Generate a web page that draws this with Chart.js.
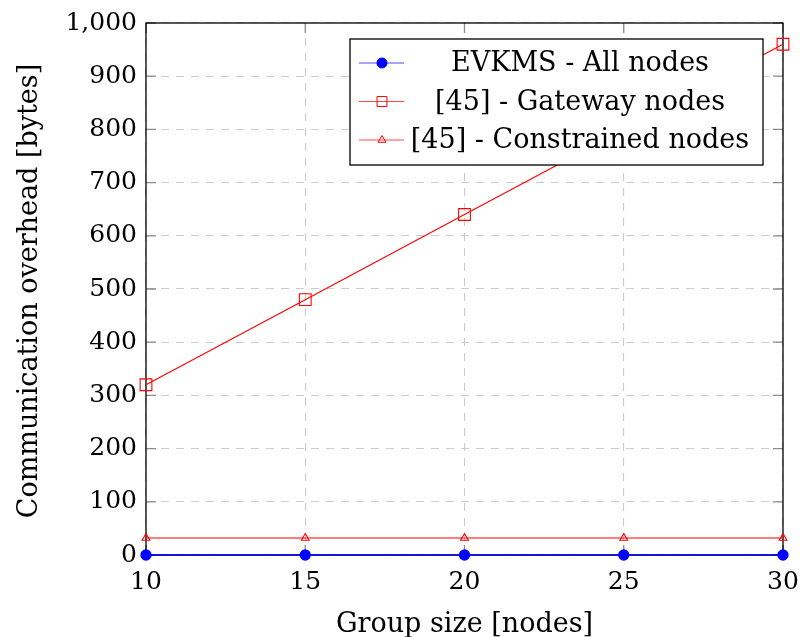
<!DOCTYPE html>
<html>
<head>
<meta charset="utf-8">
<script src="https://cdn.jsdelivr.net/npm/chart.js@4/dist/chart.umd.min.js"></script>
<style>
  html, body { margin: 0; padding: 0; background: #fff; }
  #wrap { width: 800px; height: 637px; }
</style>
</head>
<body>
<div id="wrap"><canvas id="c" width="800" height="637"></canvas></div>
<script>
// Group sizes (x) and communication overhead in bytes per scheme
const groupSizes = [10, 15, 20, 25, 30];
const evkmsAll = [0, 0, 0, 0, 0];
const refGateway = [320, 480, 640, 800, 960];
const refConstrained = [32, 32, 32, 32, 32];

const seriesLabels = ['EVKMS - All nodes', '[45] - Gateway nodes', '[45] - Constrained nodes'];
const xTicks = [10, 15, 20, 25, 30];
const yTicks = [0, 100, 200, 300, 400, 500, 600, 700, 800, 900, 1000];

const xTitle = 'Group size [nodes]';
const yTitle = 'Communication overhead [bytes]';

const FONT = '"DejaVu Serif", "Liberation Serif", serif';
const TEXT_SIZE = 27;
const TICK_SIZE = 25;

const toPoints = ys => groupSizes.map((x, i) => ({ x: x, y: ys[i] }));

// Full frame, inward tick marks, axis titles and boxed legend
const framePlugin = {
  id: 'frame',
  beforeDatasetsDraw(chart) {
    const { ctx, chartArea: a, scales } = chart;
    ctx.save();
    ctx.strokeStyle = '#8c8c8c';
    ctx.lineWidth = 1.3;
    const tl = 10;
    ctx.beginPath();
    xTicks.forEach(v => {
      const px = scales.x.getPixelForValue(v);
      ctx.moveTo(px, a.bottom); ctx.lineTo(px, a.bottom - tl);
      ctx.moveTo(px, a.top); ctx.lineTo(px, a.top + tl);
    });
    yTicks.forEach(v => {
      const py = scales.y.getPixelForValue(v);
      ctx.moveTo(a.left, py); ctx.lineTo(a.left + tl, py);
      ctx.moveTo(a.right, py); ctx.lineTo(a.right - tl, py);
    });
    ctx.stroke();
    ctx.strokeStyle = '#000';
    ctx.lineWidth = 1.3;
    ctx.strokeRect(a.left, a.top, a.right - a.left, a.bottom - a.top);
    ctx.restore();
  },
  afterDraw(chart) {
    const { ctx, chartArea: a } = chart;
    ctx.save();
    ctx.fillStyle = '#000';
    ctx.font = TEXT_SIZE + 'px ' + FONT;
    // x title
    ctx.textAlign = 'center';
    ctx.textBaseline = 'alphabetic';
    ctx.fillText(xTitle, (a.left + a.right) / 2, 632);
    // y title
    ctx.translate(37, (a.top + a.bottom) / 2 + 2);
    ctx.rotate(-Math.PI / 2);
    ctx.fillText(yTitle, 0, 0);
    ctx.restore();

    // legend
    const bw = 413, bh = 126;
    const bx = a.right - 20 - bw, by = a.top + 16;
    ctx.save();
    ctx.fillStyle = '#fff';
    ctx.fillRect(bx, by, bw, bh);
    ctx.strokeStyle = '#000';
    ctx.lineWidth = 1.3;
    ctx.strokeRect(bx, by, bw, bh);
    chart.data.datasets.forEach((ds, i) => {
      const cy = by + 24 + i * 38.5;
      ctx.strokeStyle = ds.borderColor;
      ctx.globalAlpha = 0.7;
      ctx.lineWidth = 1.2;
      ctx.beginPath();
      ctx.moveTo(bx + 9, cy); ctx.lineTo(bx + 54, cy);
      ctx.stroke();
      ctx.globalAlpha = 1;
      ctx.fillStyle = ds.pointBackgroundColor;
      ctx.strokeStyle = ds.pointBorderColor;
      ctx.lineWidth = 1;
      Chart.helpers.drawPoint(ctx, {
        pointStyle: ds.pointStyle,
        radius: ds.pointStyle === 'rect' ? 7 : (ds.pointStyle === 'circle' ? 5 : 4.5),
        rotation: 0,
        borderWidth: 1
      }, bx + 32, cy);
      ctx.fillStyle = '#000';
      ctx.font = TEXT_SIZE + 'px ' + FONT;
      ctx.textAlign = 'center';
      ctx.textBaseline = 'middle';
      ctx.fillText(ds.label, bx + 230, cy + 1);
    });
    ctx.restore();
  }
};

new Chart(document.getElementById('c'), {
  type: 'line',
  data: {
    datasets: [
      {
        label: seriesLabels[0],
        data: toPoints(evkmsAll),
        borderColor: '#0000ff',
        backgroundColor: '#0000ff',
        pointBackgroundColor: '#0000ff',
        pointBorderColor: '#0000ff',
        pointStyle: 'circle',
        pointRadius: 5,
        borderWidth: 1.3,
        clip: false
      },
      {
        label: seriesLabels[1],
        data: toPoints(refGateway),
        borderColor: '#ff0000',
        backgroundColor: '#ff0000',
        pointBackgroundColor: 'rgba(255,255,255,0)',
        pointBorderColor: '#ff0000',
        pointStyle: 'rect',
        pointRadius: 8.3,
        pointBorderWidth: 1.1,
        borderWidth: 1.1,
        clip: false
      },
      {
        label: seriesLabels[2],
        data: toPoints(refConstrained),
        borderColor: '#ff0000',
        backgroundColor: '#ff0000',
        pointBackgroundColor: 'rgba(255,255,255,0)',
        pointBorderColor: '#ff0000',
        pointStyle: 'triangle',
        pointRadius: 4.5,
        pointBorderWidth: 1.1,
        borderWidth: 1.1,
        clip: false
      }
    ]
  },
  options: {
    responsive: false,
    animation: false,
    layout: { padding: { top: 23, right: 17, left: 0, bottom: 0 } },
    plugins: { legend: { display: false }, tooltip: { enabled: false } },
    scales: {
      x: {
        type: 'linear',
        min: 10, max: 30,
        afterBuildTicks: s => { s.ticks = xTicks.map(v => ({ value: v })); },
        afterFit: s => { s.height = 82; s.paddingLeft = 0; s.paddingRight = 0; },
        border: { display: false, dash: [8, 7] },
        grid: { color: '#cccccc', lineWidth: 1.1, drawTicks: false },
        ticks: { color: '#000', padding: 12, font: { family: FONT, size: TICK_SIZE }, maxRotation: 0 }
      },
      y: {
        min: 0, max: 1000,
        afterBuildTicks: s => { s.ticks = yTicks.map(v => ({ value: v })); },
        afterFit: s => { s.width = 146; s.paddingTop = 0; s.paddingBottom = 0; },
        border: { display: false, dash: [8, 7] },
        grid: { color: '#cccccc', lineWidth: 1.1, drawTicks: false },
        ticks: {
          color: '#000', padding: 9,
          font: { family: FONT, size: TICK_SIZE },
          callback: v => v.toLocaleString('en-US')
        }
      }
    }
  },
  plugins: [framePlugin]
});
</script>
</body>
</html>
